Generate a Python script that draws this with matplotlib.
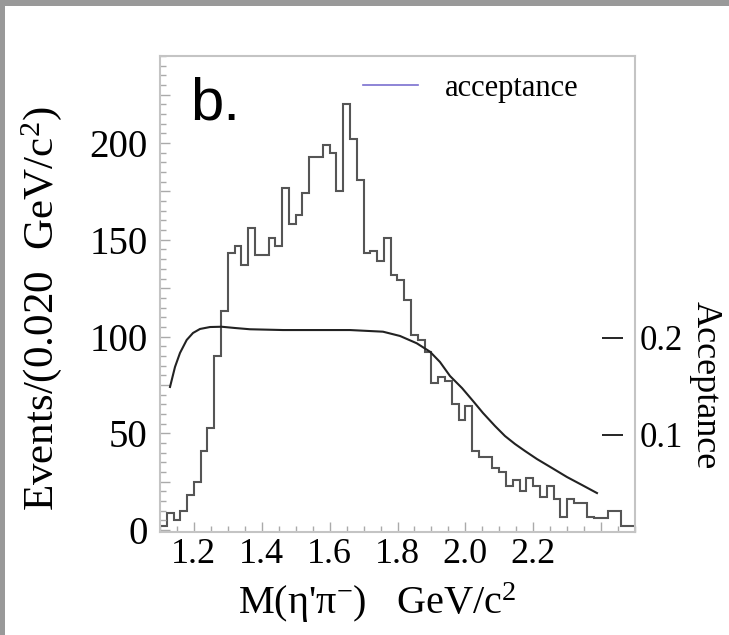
import numpy as np
import matplotlib.pyplot as plt
from matplotlib.ticker import MultipleLocator, FuncFormatter, NullLocator
from matplotlib.lines import Line2D
from matplotlib.patches import Rectangle

plt.rcParams['font.family'] = ['Liberation Serif', 'DejaVu Serif']
plt.rcParams['mathtext.fontset'] = 'custom'
plt.rcParams['mathtext.rm'] = 'Liberation Serif'
plt.rcParams['mathtext.it'] = 'Liberation Serif:italic'

# M(eta' pi-) histogram, 0.020 GeV bins from 1.10 to 2.50
counts = [2, 9, 5, 10, 18, 25, 41, 53, 90, 113,
          143, 147, 137, 156, 142, 142, 151, 147, 177, 158,
          163, 174, 193, 193, 199, 195, 175, 220, 202, 181,
          143, 144, 139, 151, 132, 129, 119, 101, 98, 92,
          76, 79, 77, 65, 57, 64, 41, 38, 38, 32,
          30, 23, 26, 20, 27, 23, 17, 23, 16, 7,
          16, 14, 14, 7, 6, 6, 10, 10, 2, 2]
edges = np.round(np.arange(1.10, 2.5001, 0.02), 2)

# acceptance curve (right axis)
acc_x = [1.1295, 1.1442, 1.1589, 1.1787, 1.1973, 1.2179, 1.2474, 1.2818,
         1.3210, 1.3652, 1.4625, 1.6600, 1.7572, 1.8073, 1.8566, 1.8958,
         1.9252, 1.9547, 1.9901, 2.0225, 2.0520, 2.0874, 2.1168, 2.1463,
         2.1757, 2.2111, 2.2553, 2.2995, 2.3437, 2.3879]
acc_y = [0.1493, 0.1699, 0.1843, 0.1977, 0.2049, 0.2090, 0.2110, 0.2113,
         0.2100, 0.2087, 0.2079, 0.2079, 0.2062, 0.2018, 0.1943, 0.1856,
         0.1750, 0.1606, 0.1482, 0.1349, 0.1225, 0.1091, 0.0988, 0.0906,
         0.0834, 0.0751, 0.0659, 0.0566, 0.0484, 0.0401]

xticks_labeled = [1.2, 1.4, 1.6, 1.8, 2.0, 2.2]

fig = plt.figure(figsize=(7.29, 6.35), dpi=100)

# grey border of the screenshot
fig.add_artist(Rectangle((0, 1 - 6/635), 1, 6/635, transform=fig.transFigure,
                         color='#999999', lw=0))
fig.add_artist(Rectangle((0, 0), 5/729, 1, transform=fig.transFigure,
                         color='#999999', lw=0))

ax = fig.add_axes([160/729, 103/635, 475/729, 476/635])
ax.stairs(counts, edges, baseline=None, color='#555555', lw=1.5)
ax.set_xlim(1.1, 2.5)
ax.set_ylim(-1, 245)

ax.xaxis.set_major_locator(MultipleLocator(0.2))
ax.xaxis.set_minor_locator(MultipleLocator(0.05))
ax.xaxis.set_major_formatter(FuncFormatter(
    lambda v, p: f"{v:.1f}" if round(v, 1) in xticks_labeled else ""))
ax.yaxis.set_major_locator(MultipleLocator(25))
ax.yaxis.set_minor_locator(MultipleLocator(5))
ax.yaxis.set_major_formatter(FuncFormatter(
    lambda v, p: f"{v:.0f}" if round(v) % 50 == 0 else ""))
ax.tick_params(which='both', direction='in', color='#aaaaaa', width=1,
               top=False, right=False)
ax.tick_params(which='major', length=7)
ax.tick_params(which='minor', length=4)
ax.tick_params(axis='y', labelsize=28, pad=9)
ax.tick_params(axis='x', labelsize=26, pad=4)
for s in ax.spines.values():
    s.set_color('#c4c4c4')
    s.set_linewidth(1.5)

ax.set_xlabel("M(η'π$^{-}$)   GeV/c$^{2}$", fontsize=29)
ax.xaxis.set_label_coords(0.458, -0.149)
ax.xaxis.label.set_va('center')
ax.set_ylabel("Events/(0.020  GeV/c$^{2}$)", fontsize=31)
ax.yaxis.set_label_coords(-0.25, 0.47)
ax.yaxis.label.set_va('center')

ax.text(0.063, 0.866, "b.", transform=ax.transAxes, fontsize=43,
        family='Liberation Sans', va='baseline', ha='left')

ax2 = ax.twinx()
ax2.plot(acc_x, acc_y, color='#222222', lw=1.5)
ax2.set_ylim(0, 0.49)
for s in ax2.spines.values():
    s.set_visible(False)
ax2.spines['right'].set_position(('outward', -8.6))
ax2.set_yticks([0.1, 0.2])
ax2.yaxis.set_minor_locator(NullLocator())
ax2.yaxis.set_major_formatter(FuncFormatter(lambda v, p: f"{v:.1f}"))
ax2.tick_params(axis='y', direction='in', length=15, width=1.2,
                color='black', pad=12, labelsize=25)
ax2.set_ylabel("Acceptance", fontsize=26, rotation=-90)
ax2.yaxis.set_label_coords(1.147, 0.309)
ax2.yaxis.label.set_va('center')

handle = Line2D([], [], color='#7a6fcf', lw=1.2)
ax.legend([handle], ["acceptance"], loc='upper right',
          bbox_to_anchor=(0.94, 1.02), frameon=False, fontsize=22,
          handlelength=1.8, handletextpad=0.9)

fig.savefig("out.png", dpi=100, facecolor='white')
